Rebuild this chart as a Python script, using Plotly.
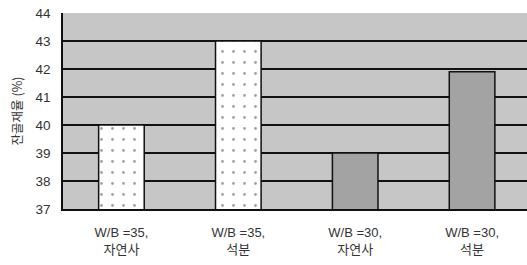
import plotly.graph_objects as go

categories = ["W/B =35,<br>자연사", "W/B =35,<br>석분", "W/B =30,<br>자연사", "W/B =30,<br>석분"]
values = [40.0, 43.0, 39.0, 41.9]
y_ticks = [37, 38, 39, 40, 41, 42, 43, 44]
bar_colors = ["#ffffff", "#ffffff", "#a3a3a3", "#a3a3a3"]
pattern_shapes = [".", ".", "", ""]

fig = go.Figure()
fig.add_trace(go.Bar(
    x=categories, y=values, width=0.39,
    marker=dict(color=bar_colors,
                line=dict(color="#111111", width=1.5),
                pattern=dict(shape=pattern_shapes, fgcolor="#a8a8a8", bgcolor=bar_colors,
                             size=11, solidity=0.05)),
))

fig.update_layout(
    width=527, height=265,
    margin=dict(l=63, r=0, t=13, b=56),
    paper_bgcolor="white", plot_bgcolor="#c6c6c6",
    showlegend=False,
    font=dict(family="Liberation Sans, Noto Sans CJK KR", size=13, color="#333333"),
)
fig.update_xaxes(
    range=[-0.5, 3.47], showgrid=False, showline=True, linecolor="#111111", linewidth=1.5,
    ticks="", automargin=False, ticklabelstandoff=11,
    tickfont=dict(size=13, family="Liberation Sans, Noto Sans CJK KR", color="#333333"),
)
fig.update_yaxes(
    range=[37, 44], tickvals=y_ticks, ticktext=[str(t) for t in y_ticks],
    showgrid=True, gridcolor="#111111", gridwidth=1.6,
    showline=True, linecolor="#111111", linewidth=1.5, ticks="", zeroline=False,
    automargin=False, ticklabelstandoff=8,
    title=dict(text="잔골재율 (%)", font=dict(size=12.5, family="Noto Sans CJK KR, Liberation Sans", color="#333333"), standoff=10),
    tickfont=dict(size=13.5, color="#333333"),
)
fig.write_html("out.html", config={"displayModeBar": False},
               post_script="document.body.style.margin='0px';document.body.style.overflow='hidden';")
